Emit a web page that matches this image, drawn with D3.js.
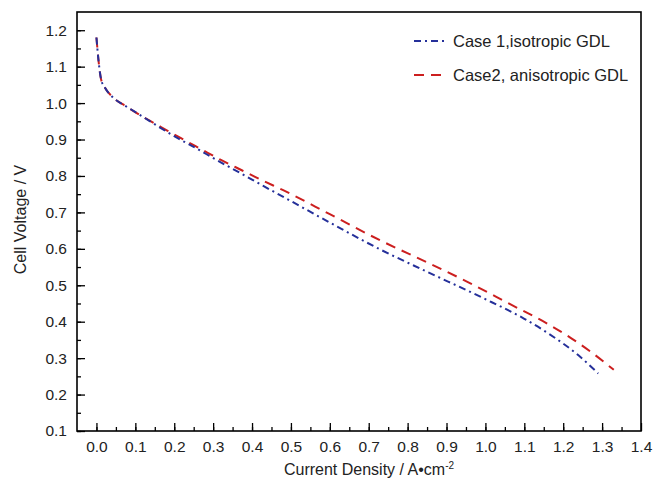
<!DOCTYPE html>
<html>
<head>
<meta charset="utf-8">
<script src="https://cdn.jsdelivr.net/npm/d3@7"></script>
<style>
  body { margin: 0; background: #fff; }
  svg { font-family: "Liberation Sans", Arial, sans-serif; }
</style>
</head>
<body>
<div id="chart"></div>
<script>
// series 1: isotropic GDL (blue dash-dot)
const case1X = [0, 0.005, 0.012, 0.022, 0.043, 0.078, 0.12, 0.16, 0.21, 0.25, 0.31, 0.37, 0.43, 0.49, 0.6, 0.73, 0.85, 0.99, 1.1, 1.16, 1.24, 1.29];
const case1Y = [1.18, 1.12, 1.065, 1.042, 1.015, 0.99, 0.962, 0.935, 0.903, 0.88, 0.843, 0.808, 0.772, 0.737, 0.672, 0.598, 0.537, 0.467, 0.408, 0.369, 0.307, 0.258];

// series 2: anisotropic GDL (red dashed)
const case2X = [0, 0.005, 0.012, 0.022, 0.043, 0.078, 0.12, 0.165, 0.215, 0.27, 0.32, 0.375, 0.43, 0.48, 0.6, 0.73, 0.85, 0.96, 1.06, 1.16, 1.22, 1.27, 1.33];
const case2Y = [1.18, 1.12, 1.065, 1.042, 1.015, 0.99, 0.962, 0.935, 0.905, 0.873, 0.844, 0.815, 0.786, 0.761, 0.695, 0.623, 0.563, 0.506, 0.45, 0.394, 0.355, 0.318, 0.268];

const xTicks = d3.range(0, 15).map(i => i / 10);
const yTicks = d3.range(1, 13).map(i => i / 10);
const seriesNames = ["Case 1,isotropic GDL", "Case2, anisotropic GDL"];
const seriesColors = ["#25309a", "#cc1f1f"];
const seriesDash = ["7,4,2,4", "10,7"];

const W = 664, H = 482;
const margin = {top: 12, right: 23, bottom: 51, left: 77};
const width = W - margin.left - margin.right,
      height = H - margin.top - margin.bottom;

const svg = d3.select("#chart")
  .append("svg")
    .attr("width", W)
    .attr("height", H)
  .append("g")
    .attr("transform", `translate(${margin.left},${margin.top})`);

const x = d3.scaleLinear().domain([-0.05, 1.4]).range([0, width]);
const y = d3.scaleLinear().domain([0.1, 1.25]).range([height, 0]);

// minor ticks
const xMinor = d3.range(-1, 29).map(i => i * 0.05).filter(v => v > -0.05 && v < 1.4);
const yMinor = d3.range(2, 25).map(i => i * 0.05);

svg.append("g")
  .attr("transform", `translate(0,${height})`)
  .call(d3.axisBottom(x).tickValues(xMinor).tickSize(-4).tickFormat(""))
  .call(g => g.select(".domain").remove())
  .selectAll("line").attr("stroke", "#000").attr("stroke-width", 1.3);

svg.append("g")
  .call(d3.axisLeft(y).tickValues(yMinor).tickSize(-4).tickFormat(""))
  .call(g => g.select(".domain").remove())
  .selectAll("line").attr("stroke", "#000").attr("stroke-width", 1.3);

const xAxis = svg.append("g")
  .attr("transform", `translate(0,${height})`)
  .call(d3.axisBottom(x).tickValues(xTicks).tickSize(-8).tickPadding(10).tickFormat(d3.format(".1f")));
xAxis.select(".domain").remove();
xAxis.selectAll("line").attr("stroke", "#000").attr("stroke-width", 1.3);
xAxis.selectAll("text").style("font-size", "15.5px").attr("fill", "#222").attr("dy", "0.71em");

const yAxis = svg.append("g")
  .call(d3.axisLeft(y).tickValues(yTicks).tickSize(-8).tickPadding(10).tickFormat(d3.format(".1f")));
yAxis.select(".domain").remove();
yAxis.selectAll("line").attr("stroke", "#000").attr("stroke-width", 1.3);
yAxis.selectAll("text").style("font-size", "15.5px").attr("fill", "#222");

// frame
svg.append("rect")
  .attr("x", 0).attr("y", 0)
  .attr("width", width).attr("height", height)
  .attr("fill", "none")
  .attr("stroke", "#000")
  .attr("stroke-width", 1.6);

const line = d3.line()
  .x(d => x(d[0]))
  .y(d => y(d[1]))
  .curve(d3.curveMonotoneX);

const series = [d3.zip(case1X, case1Y), d3.zip(case2X, case2Y)];

// draw red below blue
[1, 0].forEach(i => {
  svg.append("path")
    .datum(series[i])
    .attr("d", line)
    .attr("fill", "none")
    .attr("stroke", seriesColors[i])
    .attr("stroke-width", 2)
    .attr("stroke-dasharray", seriesDash[i]);
});

// legend
const legend = svg.append("g").attr("transform", `translate(${414 - margin.left},${41 - margin.top})`);
seriesNames.forEach((name, i) => {
  const row = legend.append("g").attr("transform", `translate(0,${i * 34})`);
  row.append("line")
    .attr("x1", 0).attr("x2", 31)
    .attr("stroke", seriesColors[i])
    .attr("stroke-width", 2)
    .attr("stroke-dasharray", seriesDash[i]);
  row.append("text")
    .attr("x", 39).attr("y", 6)
    .style("font-size", "16.5px")
    .attr("fill", "#222")
    .text(name);
});

// axis titles
svg.append("text")
  .attr("text-anchor", "middle")
  .attr("x", width / 2 + 10)
  .attr("y", height + 44)
  .style("font-size", "16px")
  .attr("fill", "#222")
  .call(t => {
    t.append("tspan").text("Current Density / A\u2022cm");
    t.append("tspan").attr("dy", -6).style("font-size", "10px").text("-2");
  });

svg.append("text")
  .attr("text-anchor", "middle")
  .attr("transform", "rotate(-90)")
  .attr("x", -height / 2 + 2)
  .attr("y", -51)
  .style("font-size", "16px")
  .attr("fill", "#222")
  .text("Cell Voltage / V");
</script>
</body>
</html>
